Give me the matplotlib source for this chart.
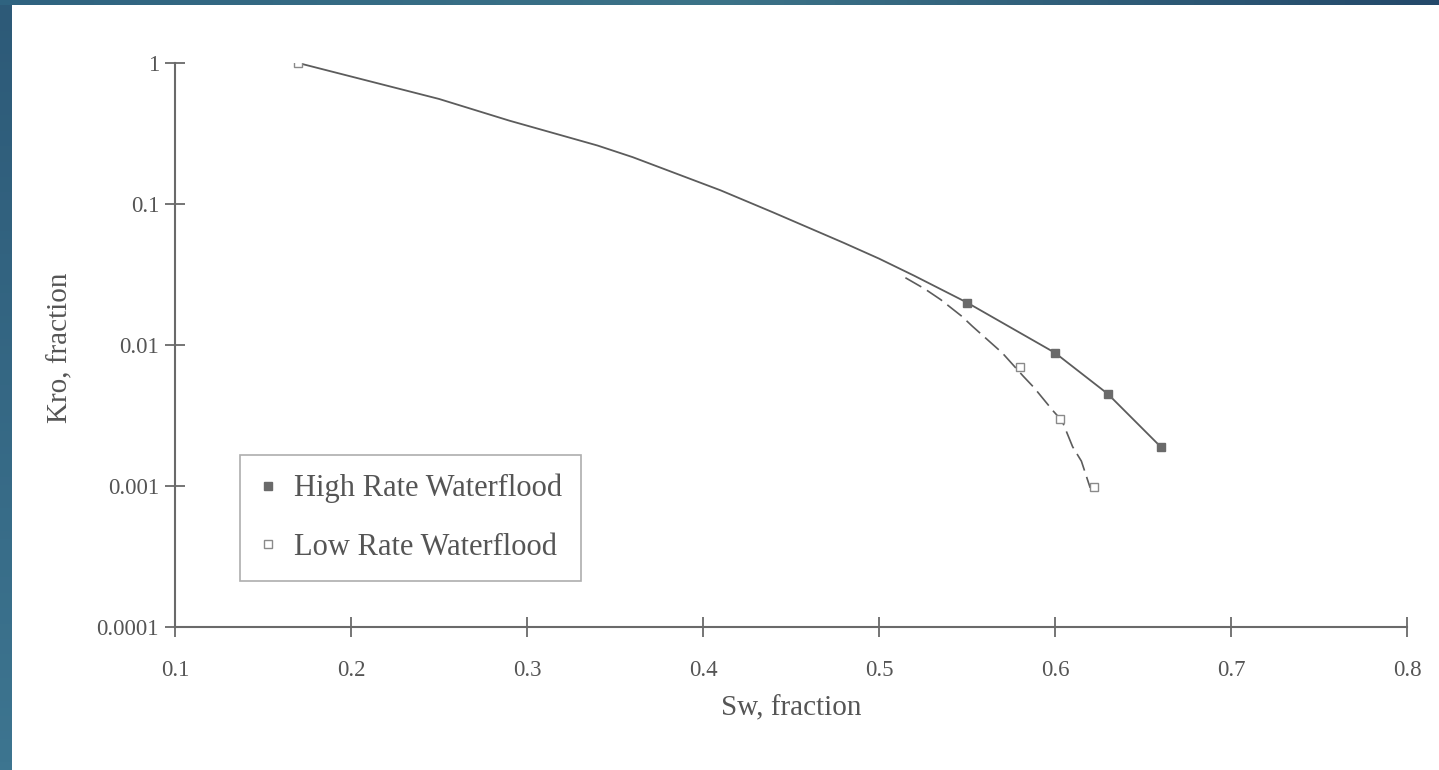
import numpy as np
import matplotlib
matplotlib.use("Agg")
import matplotlib.pyplot as plt
from matplotlib.lines import Line2D
from matplotlib.ticker import FixedLocator, NullLocator, FixedFormatter

plt.rcParams['font.family'] = ['Liberation Serif', 'DejaVu Serif']

# ---- data ----
sw_high_curve = [0.17, 0.25, 0.29, 0.34, 0.36, 0.41, 0.44, 0.48, 0.50, 0.52, 0.55, 0.60, 0.63, 0.66]
kro_high_curve = [1.0, 0.556, 0.39, 0.26, 0.215, 0.125, 0.087, 0.053, 0.041, 0.031, 0.020, 0.0088, 0.0045, 0.0019]
sw_high_pts = [0.55, 0.60, 0.63, 0.66]
kro_high_pts = [0.020, 0.0088, 0.0045, 0.0019]

sw_low_curve = [0.515, 0.526, 0.535, 0.547, 0.553, 0.565, 0.570, 0.582, 0.588, 0.599, 0.604, 0.610, 0.615, 0.620]
kro_low_curve = [0.030, 0.025, 0.021, 0.016, 0.0136, 0.010, 0.0088, 0.0060, 0.0050, 0.0034, 0.0029, 0.0019, 0.0015, 0.00097]
sw_low_pts = [0.17, 0.580, 0.603, 0.622]
kro_low_pts = [1.0, 0.0070, 0.0030, 0.00098]

x_ticks = [0.1, 0.2, 0.3, 0.4, 0.5, 0.6, 0.7, 0.8]
x_tick_labels = ["0.1", "0.2", "0.3", "0.4", "0.5", "0.6", "0.7", "0.8"]
y_ticks = [0.0001, 0.001, 0.01, 0.1, 1]
y_tick_labels = ["0.0001", "0.001", "0.01", "0.1", "1"]

series_labels = ["High Rate Waterflood", "Low Rate Waterflood"]

# ---- figure ----
W, H = 1439, 770
fig = plt.figure(figsize=(W / 100, H / 100), dpi=100, facecolor='white')

# slide border gradients (left and top)
axl = fig.add_axes([0, 0, 12 / W, 1])
axl.imshow(np.linspace(0, 1, 100).reshape(-1, 1), aspect='auto',
           cmap=matplotlib.colors.LinearSegmentedColormap.from_list('l', ['#2d5a78', '#3d7590']),
           extent=[0, 1, 0, 1])
axl.set_axis_off()
axt = fig.add_axes([0, 1 - 5 / H, 1, 5 / H])
axt.imshow(np.linspace(0, 1, 200).reshape(1, -1), aspect='auto',
           cmap=matplotlib.colors.LinearSegmentedColormap.from_list('t', ['#2f6380', '#3c7388', '#24496a']),
           extent=[0, 1, 0, 1])
axt.set_axis_off()

left, right, top, bottom = 175, 1407, 63, 627
ax = fig.add_axes([left / W, 1 - bottom / H, (right - left) / W, (bottom - top) / H])

gray = '#5c5c5c'
ax.plot(sw_high_curve, kro_high_curve, color=gray, lw=1.3)
ax.plot(sw_high_pts, kro_high_pts, linestyle='none', marker='s', ms=5.5,
        mfc='#6a6a6a', mec='#6a6a6a')
ax.plot(sw_low_curve, kro_low_curve, color=gray, lw=1.2, dashes=(11, 4))
ax.plot(sw_low_pts, kro_low_pts, linestyle='none', marker='s', ms=5.5,
        mfc='white', mec='#8a8a8a', mew=1.0)

ax.set_yscale('log')
ax.set_xlim(0.1, 0.8)
ax.set_ylim(0.0001, 1)
ax.xaxis.set_major_locator(FixedLocator(x_ticks))
ax.xaxis.set_major_formatter(FixedFormatter(x_tick_labels))
ax.yaxis.set_major_locator(FixedLocator(y_ticks))
ax.yaxis.set_major_formatter(FixedFormatter(y_tick_labels))
ax.yaxis.set_minor_locator(NullLocator())
ax.xaxis.set_minor_locator(NullLocator())

for s in ['top', 'right']:
    ax.spines[s].set_visible(False)
for s in ['left', 'bottom']:
    ax.spines[s].set_color('#6a6a6a')
    ax.spines[s].set_linewidth(1.5)

ax.tick_params(axis='x', direction='inout', length=14, width=1.3, color='#6a6a6a',
               pad=17, labelsize=16.5, labelcolor='#555555')
ax.tick_params(axis='y', direction='inout', length=15, width=1.3, color='#6a6a6a',
               pad=4, labelsize=16.5, labelcolor='#555555')

ax.set_xlabel("Sw, fraction", fontsize=21, color='#555555', va='center')
ax.xaxis.set_label_coords(0.5, -0.145)
ax.set_ylabel("Kro, fraction", fontsize=21, color='#555555', va='center')
ax.yaxis.set_label_coords(-0.0933, 0.495)

handles = [
    Line2D([], [], linestyle='none', marker='s', ms=5.5, mfc='#6a6a6a', mec='#6a6a6a'),
    Line2D([], [], linestyle='none', marker='s', ms=5.5, mfc='white', mec='#8a8a8a'),
]
leg = ax.legend(handles, series_labels, loc='upper left',
                bbox_to_anchor=((240 - left) / (right - left), (bottom - 455) / (bottom - top)),
                borderaxespad=0, frameon=True, fancybox=False, fontsize=22,
                handlelength=0.6, handletextpad=0.55, labelspacing=0.97,
                borderpad=0.62, labelcolor='#555555')
leg.get_frame().set_edgecolor('#9a9a9a')
leg.get_frame().set_linewidth(1.2)

fig.savefig("out.png", dpi=100, facecolor='white')
